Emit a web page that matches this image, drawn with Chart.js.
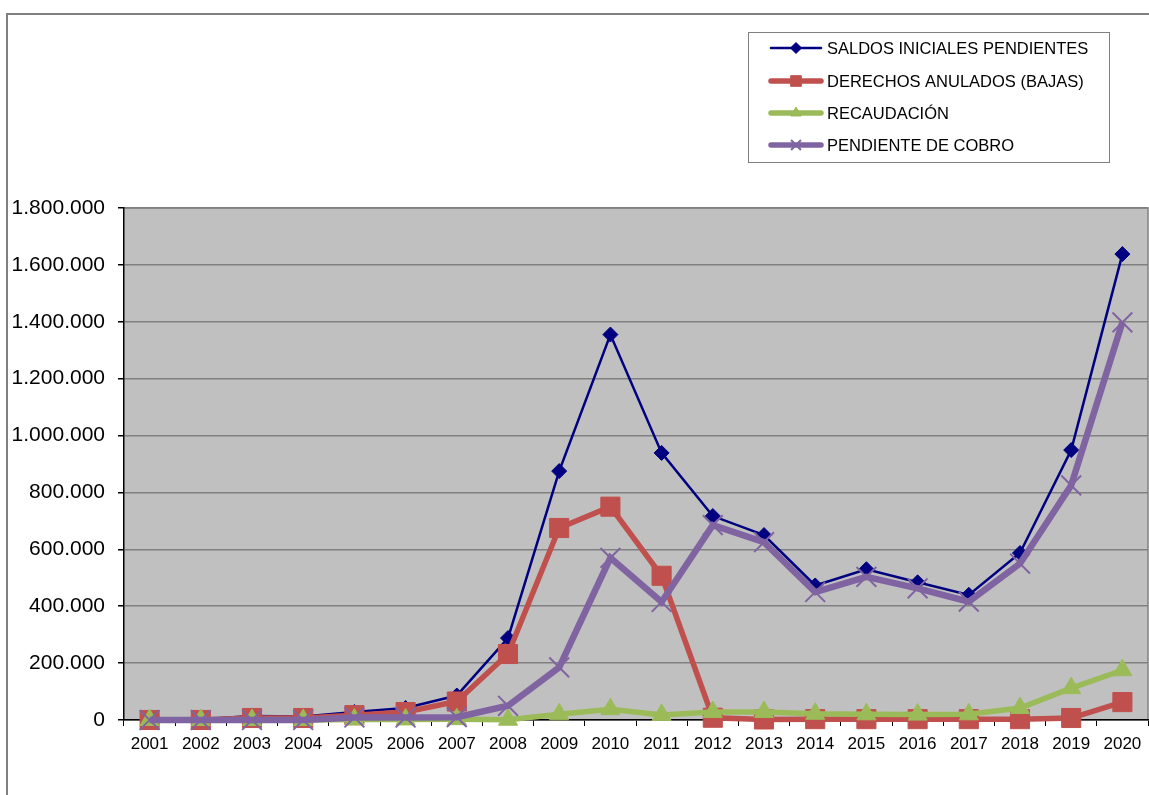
<!DOCTYPE html>
<html>
<head>
<meta charset="utf-8">
<script src="https://cdn.jsdelivr.net/npm/chart.js@4"></script>
<style>
  html, body { margin: 0; padding: 0; background: #fff; }
  canvas { display: block; }
</style>
</head>
<body>
<canvas id="myChart" width="1149" height="795"></canvas>
<script>
// Years on the x axis
var years = ['2001', '2002', '2003', '2004', '2005', '2006', '2007', '2008', '2009', '2010',
             '2011', '2012', '2013', '2014', '2015', '2016', '2017', '2018', '2019', '2020'];

// Series values (euros)
var saldos = [2000, 3000, 14000, 12000, 28000, 42000, 86000, 288000, 875000, 1355000,
              939000, 717000, 650000, 473000, 530000, 484000, 440000, 587000, 949000, 1638000];
var bajas = [0, 0, 7000, 7000, 17000, 28000, 65000, 232000, 675000, 750000,
             507000, 8000, 2000, 3000, 3000, 3000, 3000, 3000, 7000, 63000];
var recaudacion = [0, 0, 0, 0, 2000, 2000, 3000, 1000, 20000, 38000,
                   18000, 28000, 28000, 22000, 20000, 19000, 20000, 42000, 112000, 175000];
var pendiente = [0, 0, 0, 0, 9000, 9000, 10000, 50000, 185000, 570000,
                 415000, 685000, 625000, 450000, 503000, 463000, 416000, 550000, 825000, 1398000];

var seriesNames = ['SALDOS INICIALES PENDIENTES', 'DERECHOS ANULADOS (BAJAS)', 'RECAUDACIÓN', 'PENDIENTE DE COBRO'];

// Tick labels of the value axis
var yTicks = [0, 200000, 400000, 600000, 800000, 1000000, 1200000, 1400000, 1600000, 1800000];

function fmt(v) {
  return String(v).replace(/\B(?=(\d{3})+(?!\d))/g, '.');
}

var FONT = 'Liberation Sans, Arial, sans-serif';

// grey plot area, outer frame and the boxed legend
var framePlugin = {
  id: 'frame',
  beforeDraw: function (chart) {
    var c = chart.ctx, a = chart.chartArea;
    c.save();
    c.fillStyle = '#C0C0C0';
    c.fillRect(a.left, a.top, a.right - a.left, a.bottom - a.top);
    c.strokeStyle = '#808080';
    c.lineWidth = 1.5;
    c.beginPath();
    c.moveTo(a.left, a.top);
    c.lineTo(a.right, a.top);
    c.lineTo(a.right, a.bottom);
    c.stroke();
    c.lineWidth = 2;
    c.strokeRect(7, 14, 1300, 1000);
    c.restore();
  },
  afterDraw: function (chart) {
    var c = chart.ctx;
    c.save();
    c.fillStyle = '#fff';
    c.fillRect(748, 32, 361, 130);
    c.strokeStyle = '#808080';
    c.lineWidth = 1;
    c.strokeRect(748.5, 32.5, 361, 130);
    var rows = [48, 81, 113, 145];
    chart.data.datasets.forEach(function (ds, i) {
      var y = rows[i];
      c.strokeStyle = ds.borderColor;
      c.lineWidth = ds.legendLine;
      c.lineCap = 'round';
      c.beginPath();
      c.moveTo(771, y);
      c.lineTo(821, y);
      c.stroke();
      c.lineCap = 'butt';
      c.fillStyle = ds.pointBackgroundColor;
      c.strokeStyle = ds.pointBorderColor;
      c.lineWidth = ds.pointBorderWidth;
      Chart.helpers.drawPoint(c, {pointStyle: ds.pointStyle, radius: ds.legendRadius, borderWidth: ds.pointBorderWidth, rotation: 0}, 796, y);
      c.fillStyle = '#000';
      c.font = '16.5px ' + FONT;
      c.textBaseline = 'middle';
      c.fillText(ds.label, 827, y + 1);
    });
    c.restore();
  }
};

var ctx = document.getElementById('myChart').getContext('2d');
var myChart = new Chart(ctx, {
  type: 'line',
  data: {
    labels: years,
    datasets: [{
      label: seriesNames[0],
      data: saldos,
      borderColor: '#000080',
      backgroundColor: '#000080',
      borderWidth: 2.5,
      pointStyle: 'rectRot',
      pointRadius: 7.5,
      pointBackgroundColor: '#000080',
      pointBorderColor: '#000080',
      pointBorderWidth: 1,
      legendLine: 2.5,
      legendRadius: 5.5,
      clip: false,
      order: 3
    }, {
      label: seriesNames[1],
      data: bajas,
      borderColor: '#C0504D',
      backgroundColor: '#C0504D',
      borderWidth: 5.5,
      pointStyle: 'rect',
      pointRadius: 13.5,
      pointBackgroundColor: '#C0504D',
      pointBorderColor: '#C0504D',
      pointBorderWidth: 1,
      legendLine: 5.5,
      legendRadius: 7.5,
      clip: false,
      order: 2
    }, {
      label: seriesNames[2],
      data: recaudacion,
      borderColor: '#9BBB59',
      backgroundColor: '#9BBB59',
      borderWidth: 5.5,
      pointStyle: 'triangle',
      pointRadius: 11,
      pointBackgroundColor: '#9BBB59',
      pointBorderColor: '#9BBB59',
      pointBorderWidth: 1,
      legendLine: 5.5,
      legendRadius: 6,
      clip: false,
      order: 1
    }, {
      label: seriesNames[3],
      data: pendiente,
      borderColor: '#8064A2',
      backgroundColor: '#8064A2',
      borderWidth: 6.5,
      pointStyle: 'crossRot',
      pointRadius: 14,
      pointBackgroundColor: '#8064A2',
      pointBorderColor: '#8064A2',
      pointBorderWidth: 2,
      legendLine: 5.5,
      legendRadius: 7,
      clip: false,
      order: 0
    }]
  },
  options: {
    responsive: false,
    animation: false,
    layout: { autoPadding: false, padding: { top: 208, right: 1, left: 0, bottom: 0 } },
    elements: { line: { tension: 0 } },
    plugins: {
      legend: { display: false },
      tooltip: { enabled: false }
    },
    scales: {
      x: {
        offset: true,
        grid: { offset: true, drawOnChartArea: false, tickLength: 6, tickColor: '#000', lineWidth: 1 },
        border: { color: '#000', width: 1.5 },
        ticks: { color: '#000', font: { family: FONT, size: 17 }, padding: 8, maxRotation: 0, autoSkip: false },
        afterFit: function (s) { s.height = 75; s.paddingLeft = 0; s.paddingRight = 0; }
      },
      y: {
        min: 0,
        max: 1800000,
        afterBuildTicks: function (s) { s.ticks = yTicks.map(function (v) { return { value: v }; }); },
        grid: { color: '#808080', lineWidth: 1.5, tickLength: 6, tickColor: '#000' },
        border: { color: '#000', width: 1.5 },
        ticks: {
          color: '#000',
          font: { family: FONT, size: 21 },
          padding: 13,
          callback: function (v) { return fmt(v); }
        },
        afterFit: function (s) { s.width = 124; }
      }
    }
  },
  plugins: [framePlugin]
});
</script>
</body>
</html>
